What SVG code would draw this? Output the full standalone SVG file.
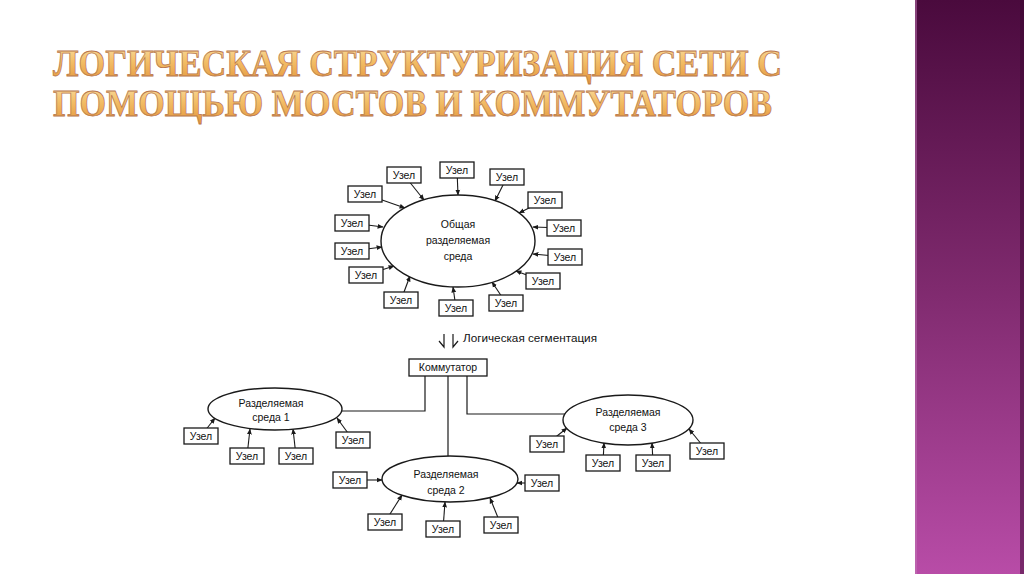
<svg xmlns="http://www.w3.org/2000/svg" width="1024" height="574" viewBox="0 0 1024 574">
<defs>
<linearGradient id="band" x1="0" y1="0" x2="0" y2="1">
<stop offset="0" stop-color="#4a0a3d"/>
<stop offset="0.5" stop-color="#7f2a6e"/>
<stop offset="1" stop-color="#b84ca7"/>
</linearGradient>
<linearGradient id="gold" x1="0" y1="0" x2="0" y2="1">
<stop offset="0" stop-color="#fbe3ad"/>
<stop offset="0.45" stop-color="#f3bf68"/>
<stop offset="1" stop-color="#e3943a"/>
</linearGradient>
<marker id="ah" viewBox="0 0 10 10" refX="9" refY="5" markerWidth="6" markerHeight="6" markerUnits="userSpaceOnUse" orient="auto">
<path d="M0,1 L10,5 L0,9 z" fill="#1a1a1a"/>
</marker>
<style>
.t{font-family:"Liberation Serif","DejaVu Serif","Times New Roman",serif;font-weight:bold;font-size:38px;fill:url(#gold);stroke:#b8764e;stroke-width:0.8}
.box{fill:#fff;stroke:#1a1a1a;stroke-width:1.3}
.ell{fill:#fff;stroke:#1a1a1a;stroke-width:1.4}
.lbl{font-family:"Liberation Sans",Arial,sans-serif;font-size:10.5px;fill:#111;text-anchor:middle}
.ln{stroke:#1a1a1a;stroke-width:1.2;fill:none}
.ar{stroke:#1a1a1a;stroke-width:1.1;fill:none;marker-end:url(#ah)}
</style>
</defs>
<rect width="1024" height="574" fill="#fff"/>
<rect x="915" y="0" width="109" height="574" fill="url(#band)"/>
<rect x="915" y="0" width="2" height="574" fill="#c27ab5" opacity="0.5"/>
<rect x="1020" y="0" width="4" height="574" fill="#3a0630" opacity="0.5"/>

<g id="title">
<text class="t" font-family="Liberation Serif" x="53" y="76" textLength="729" lengthAdjust="spacingAndGlyphs">ЛОГИЧЕСКАЯ СТРУКТУРИЗАЦИЯ СЕТИ С</text>
<text class="t" font-family="Liberation Serif" x="53" y="116" textLength="719" lengthAdjust="spacingAndGlyphs">ПОМОЩЬЮ МОСТОВ И КОММУТАТОРОВ</text>
</g>

<g id="connectors">
<line class="ar" x1="404" y1="175" x2="424" y2="200"/>
<line class="ar" x1="457" y1="170" x2="458" y2="195"/>
<line class="ar" x1="507" y1="177" x2="495" y2="201"/>
<line class="ar" x1="545" y1="200" x2="519" y2="213"/>
<line class="ar" x1="564" y1="228" x2="533" y2="227"/>
<line class="ar" x1="565" y1="257" x2="533" y2="254"/>
<line class="ar" x1="543" y1="281" x2="516" y2="271"/>
<line class="ar" x1="506" y1="303" x2="492" y2="282"/>
<line class="ar" x1="456" y1="308" x2="453" y2="287"/>
<line class="ar" x1="401" y1="300" x2="410" y2="276"/>
<line class="ar" x1="366" y1="275" x2="394" y2="266"/>
<line class="ar" x1="352" y1="251" x2="382" y2="247"/>
<line class="ar" x1="352" y1="223" x2="383" y2="227"/>
<line class="ar" x1="365" y1="194" x2="405" y2="208"/>

<line class="ar" x1="201" y1="436" x2="215" y2="418"/>
<line class="ar" x1="247" y1="456" x2="250" y2="429"/>
<line class="ar" x1="296" y1="456" x2="293" y2="429"/>
<line class="ar" x1="353" y1="440" x2="337" y2="418"/>

<line class="ar" x1="350" y1="480" x2="382" y2="480"/>
<line class="ar" x1="542" y1="483" x2="517" y2="483"/>
<line class="ar" x1="385" y1="522" x2="402" y2="495"/>
<line class="ar" x1="443" y1="529" x2="445" y2="502"/>
<line class="ar" x1="501" y1="525" x2="490" y2="498"/>

<line class="ar" x1="547" y1="444" x2="567" y2="428"/>
<line class="ar" x1="603" y1="463" x2="604" y2="443"/>
<line class="ar" x1="653" y1="463" x2="652" y2="443"/>
<line class="ar" x1="707" y1="451" x2="689" y2="429"/>

<polyline class="ln" points="425,376 425,411 342,411"/>
<polyline class="ln" points="467,376 467,414 565,414"/>
<line class="ln" x1="448" y1="376" x2="448" y2="456"/>

<path class="ln" d="M444,334 L444,347 L439,341 M453,334 L453,347 L458,341"/>
</g>

<text class="lbl" x="463" y="342" style="text-anchor:start" textLength="134" lengthAdjust="spacingAndGlyphs">Логическая сегментация</text>

<g id="shared-medium">
<ellipse class="ell" cx="458" cy="241" rx="77" ry="46"/>
<text class="lbl" x="458" y="228">Общая</text>
<text class="lbl" x="458" y="244">разделяемая</text>
<text class="lbl" x="458" y="260">среда</text>
</g>

<g id="main-nodes">
<g id="n1"><rect class="box" x="387" y="167" width="34" height="16"/><text class="lbl" x="404" y="179">Узел</text></g>
<g id="n2"><rect class="box" x="440" y="162" width="34" height="16"/><text class="lbl" x="457" y="174">Узел</text></g>
<g id="n3"><rect class="box" x="490" y="169" width="34" height="16"/><text class="lbl" x="507" y="181">Узел</text></g>
<g id="n4"><rect class="box" x="528" y="192" width="34" height="16"/><text class="lbl" x="545" y="204">Узел</text></g>
<g id="n5"><rect class="box" x="547" y="220" width="34" height="16"/><text class="lbl" x="564" y="232">Узел</text></g>
<g id="n6"><rect class="box" x="548" y="249" width="34" height="16"/><text class="lbl" x="565" y="261">Узел</text></g>
<g id="n7"><rect class="box" x="526" y="273" width="34" height="16"/><text class="lbl" x="543" y="285">Узел</text></g>
<g id="n8"><rect class="box" x="489" y="295" width="34" height="16"/><text class="lbl" x="506" y="307">Узел</text></g>
<g id="n9"><rect class="box" x="439" y="300" width="34" height="16"/><text class="lbl" x="456" y="312">Узел</text></g>
<g id="n10"><rect class="box" x="384" y="292" width="34" height="16"/><text class="lbl" x="401" y="304">Узел</text></g>
<g id="n11"><rect class="box" x="349" y="267" width="34" height="16"/><text class="lbl" x="366" y="279">Узел</text></g>
<g id="n12"><rect class="box" x="335" y="243" width="34" height="16"/><text class="lbl" x="352" y="255">Узел</text></g>
<g id="n13"><rect class="box" x="335" y="215" width="34" height="16"/><text class="lbl" x="352" y="227">Узел</text></g>
<g id="n14"><rect class="box" x="348" y="186" width="34" height="16"/><text class="lbl" x="365" y="198">Узел</text></g>
</g>

<g id="switch">
<rect class="box" x="409" y="359" width="78" height="17"/>
<text class="lbl" x="448" y="371">Коммутатор</text>
</g>

<g id="medium1">
<ellipse class="ell" cx="275" cy="409" rx="67" ry="21"/>
<text class="lbl" x="271" y="407">Разделяемая</text>
<text class="lbl" x="271" y="421">среда 1</text>
</g>
<g id="medium1-nodes">
<g><rect class="box" x="184" y="428" width="34" height="16"/><text class="lbl" x="201" y="440">Узел</text></g>
<g><rect class="box" x="230" y="448" width="34" height="16"/><text class="lbl" x="247" y="460">Узел</text></g>
<g><rect class="box" x="279" y="448" width="34" height="16"/><text class="lbl" x="296" y="460">Узел</text></g>
<g><rect class="box" x="336" y="432" width="34" height="16"/><text class="lbl" x="353" y="444">Узел</text></g>
</g>

<g id="medium2">
<ellipse class="ell" cx="450" cy="479" rx="68" ry="23"/>
<text class="lbl" x="446" y="478">Разделяемая</text>
<text class="lbl" x="446" y="494">среда 2</text>
</g>
<g id="medium2-nodes">
<g><rect class="box" x="333" y="472" width="34" height="16"/><text class="lbl" x="350" y="484">Узел</text></g>
<g><rect class="box" x="525" y="475" width="34" height="16"/><text class="lbl" x="542" y="487">Узел</text></g>
<g><rect class="box" x="368" y="514" width="34" height="16"/><text class="lbl" x="385" y="526">Узел</text></g>
<g><rect class="box" x="426" y="521" width="34" height="16"/><text class="lbl" x="443" y="533">Узел</text></g>
<g><rect class="box" x="484" y="517" width="34" height="16"/><text class="lbl" x="501" y="529">Узел</text></g>
</g>

<g id="medium3">
<ellipse class="ell" cx="628" cy="420" rx="65" ry="25"/>
<text class="lbl" x="628" y="416">Разделяемая</text>
<text class="lbl" x="628" y="431">среда 3</text>
</g>
<g id="medium3-nodes">
<g><rect class="box" x="530" y="436" width="34" height="16"/><text class="lbl" x="547" y="448">Узел</text></g>
<g><rect class="box" x="586" y="455" width="34" height="16"/><text class="lbl" x="603" y="467">Узел</text></g>
<g><rect class="box" x="636" y="455" width="34" height="16"/><text class="lbl" x="653" y="467">Узел</text></g>
<g><rect class="box" x="690" y="443" width="34" height="16"/><text class="lbl" x="707" y="455">Узел</text></g>
</g>
</svg>
